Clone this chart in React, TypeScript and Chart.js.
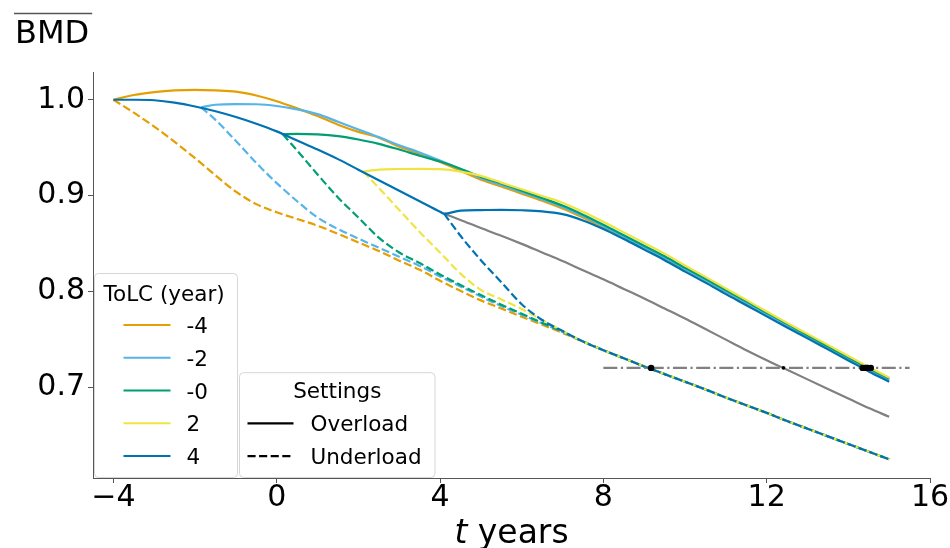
import React, { useEffect, useRef } from 'react';
import { Chart, registerables } from 'chart.js';

Chart.register(...registerables);

// ---- data ----
const years = [
  -4, -3.5, -3, -2.5, -2, -1.5, -1, -0.5, 0, 0.5, 1, 1.5, 2, 2.5, 3, 3.5, 4, 4.5, 5, 5.5,
  6, 6.5, 7, 7.5, 8, 8.5, 9, 9.5, 10, 10.5, 11, 11.5, 12, 12.5, 13, 13.5, 14, 14.5, 15,
];

const tolcLabels = ['-4', '-2', '-0', '2', '4'];
const tolcColors = ['#E69F00', '#56B4E9', '#009E73', '#F0E442', '#0072B2'];
const settingsLabels = ['Overload', 'Underload'];

// time at which each loading change starts, and BMD there
const splitTimes = [-4, -1.85, 0.15, 2.12, 4.1];
const splitValues = [1.0, 0.992, 0.964, 0.925, 0.881];

// normal ageing curve, years -4 .. 4
const referenceBMD = [
  1.0, 1.0, 0.9995, 0.997, 0.993, 0.988, 0.982, 0.975, 0.967, 0.9575, 0.948, 0.938, 0.927,
  0.916, 0.905, 0.894, 0.883,
];
// normal ageing continued (grey), years 4.5 .. 15
const noChangeBMD = [
  0.8745, 0.866, 0.858, 0.8495, 0.8405, 0.8315, 0.822, 0.8125, 0.8025, 0.7925, 0.782, 0.7715,
  0.7605, 0.7495, 0.7385, 0.728, 0.718, 0.708, 0.698, 0.688, 0.678, 0.669,
];

// overload (solid), values for the grid years after each split time
const overloadM4 = [
  1.005, 1.008, 1.0098, 1.0104, 1.0098, 1.0085, 1.0045, 0.9985, 0.991, 0.983, 0.974, 0.9665,
  0.9605, 0.951, 0.9435, 0.935, 0.926, 0.9165, 0.9095, 0.902, 0.8945, 0.8865, 0.877, 0.8665,
  0.8555, 0.8445, 0.8335, 0.8215, 0.81, 0.798, 0.7865, 0.7748, 0.7635, 0.752, 0.7405, 0.729,
  0.7175, 0.7068,
];
const overloadM2 = [
  0.9948, 0.9955, 0.9953, 0.9935, 0.99, 0.985, 0.977, 0.969, 0.961, 0.9525, 0.945, 0.9365,
  0.9275, 0.918, 0.911, 0.9035, 0.896, 0.888, 0.8785, 0.868, 0.857, 0.846, 0.835, 0.823,
  0.8115, 0.7995, 0.788, 0.776, 0.7645, 0.753, 0.7415, 0.73, 0.7185, 0.708,
];
const overload0 = [
  0.9643, 0.9638, 0.962, 0.9585, 0.954, 0.948, 0.9415, 0.9355, 0.928, 0.9195, 0.9125, 0.905,
  0.8975, 0.8895, 0.88, 0.8695, 0.8585, 0.8475, 0.8365, 0.8245, 0.813, 0.801, 0.7895, 0.7775,
  0.766, 0.754, 0.7425, 0.731, 0.7195, 0.709,
];
const overload2 = [
  0.9271, 0.9277, 0.9279, 0.9275, 0.925, 0.9205, 0.9135, 0.9065, 0.8995, 0.8925, 0.883,
  0.8725, 0.8615, 0.8505, 0.8393, 0.827, 0.815, 0.803, 0.791, 0.7788, 0.767, 0.7555, 0.744,
  0.7325, 0.721, 0.7098,
];
const overload4 = [
  0.8843, 0.8848, 0.885, 0.8846, 0.8835, 0.8805, 0.874, 0.865, 0.8545, 0.8435, 0.8325, 0.8205,
  0.809, 0.797, 0.7855, 0.7738, 0.7622, 0.7508, 0.7393, 0.7278, 0.7163, 0.7055,
];

// underload (dashed), grid years after each split time up to 7
const underloadM4 = [
  0.9865, 0.972, 0.956, 0.939, 0.921, 0.904, 0.891, 0.8825, 0.8755, 0.8685, 0.86, 0.851, 0.842,
  0.832, 0.8225, 0.811, 0.8005, 0.7905, 0.782, 0.7735, 0.765, 0.7565,
];
const underloadM2 = [
  0.979, 0.957, 0.934, 0.913, 0.894, 0.877, 0.865, 0.855, 0.8455, 0.836, 0.8265, 0.8155, 0.805,
  0.7945, 0.7845, 0.7755, 0.7665, 0.7575,
];
const underload0 = [
  0.947, 0.922, 0.898, 0.877, 0.856, 0.8405, 0.8295, 0.8175, 0.8065, 0.796, 0.786, 0.7765,
  0.767, 0.758,
];
const underload2 = [0.908, 0.885, 0.862, 0.8405, 0.8185, 0.8015, 0.7915, 0.7815, 0.77, 0.7585];
const underload4 = [0.858, 0.8325, 0.8095, 0.7865, 0.77, 0.7585];
// shared underload tail, years 7.5 .. 15
const underloadCommon = [
  0.7475, 0.7385, 0.73, 0.7215, 0.7135, 0.7055, 0.6975, 0.689, 0.681, 0.673, 0.6645, 0.6565,
  0.6485, 0.6405, 0.6325, 0.6245,
];

const thresholdBMD = 0.72;
const thresholdSpan = [8, 15.5];
const underloadCrossT = [9.17];
const noChangeCrossT = [12.41];
const overloadCrossT = [14.42, 14.46, 14.48, 14.55, 14.35];

const xTickValues = [-4, 0, 4, 8, 12, 16];
const yTickValues = [0.7, 0.8, 0.9, 1.0];

const overloads = [overloadM4, overloadM2, overload0, overload2, overload4];
const underloads = [underloadM4, underloadM2, underload0, underload2, underload4];

type Pt = { x: number; y: number };
const after = (start: number, vals: number[], upTo = Infinity): Pt[] =>
  years
    .filter((t) => t > start && t <= upTo)
    .slice(0, vals.length)
    .map((t, i) => ({ x: t, y: vals[i] }));

const FONT = '"DejaVu Sans", "Noto Sans", sans-serif';
const LW = 2.2;
const DASH = [8.1, 3.5];

function drawLegendBox(ctx: CanvasRenderingContext2D, x: number, y: number, w: number, h: number) {
  const r = 4;
  ctx.beginPath();
  ctx.moveTo(x + r, y);
  ctx.lineTo(x + w - r, y);
  ctx.arcTo(x + w, y, x + w, y + r, r);
  ctx.lineTo(x + w, y + h - r);
  ctx.arcTo(x + w, y + h, x + w - r, y + h, r);
  ctx.lineTo(x + r, y + h);
  ctx.arcTo(x, y + h, x, y + h - r, r);
  ctx.lineTo(x, y + r);
  ctx.arcTo(x, y, x + r, y, r);
  ctx.closePath();
  ctx.fillStyle = 'rgba(255,255,255,0.8)';
  ctx.fill();
  ctx.strokeStyle = '#d6d6d6';
  ctx.lineWidth = 1;
  ctx.stroke();
}

const decorations = {
  id: 'decorations',
  afterDraw(chart: any) {
    const ctx: CanvasRenderingContext2D = chart.ctx;
    const area = chart.chartArea;
    ctx.save();
    ctx.fillStyle = '#000';
    ctx.textAlign = 'left';
    ctx.textBaseline = 'alphabetic';

    // y title with overline
    ctx.font = `32px ${FONT}`;
    ctx.fillText('BMD', 15, 43);
    const bw = ctx.measureText('BMD').width;
    ctx.strokeStyle = '#555';
    ctx.lineWidth = 1.4;
    ctx.beginPath();
    ctx.moveTo(14, 13.5);
    ctx.lineTo(16 + bw + 2, 13.5);
    ctx.stroke();

    // x title: italic t + " years"
    ctx.font = `italic 33px ${FONT}`;
    const tW = ctx.measureText('t').width;
    ctx.font = `33px ${FONT}`;
    const rW = ctx.measureText(' years').width;
    const cx = (area.left + area.right) / 2;
    const x0 = cx - (tW + rW) / 2;
    ctx.font = `italic 33px ${FONT}`;
    ctx.fillText('t', x0, 543);
    ctx.font = `33px ${FONT}`;
    ctx.fillText(' years', x0 + tW, 543);

    // legend 1: ToLC
    const lf = `21.5px ${FONT}`;
    const l1x = area.left + 1.5;
    const l1y = 273.5;
    drawLegendBox(ctx, l1x, l1y, 143, area.bottom - 0.5 - l1y);
    ctx.font = lf;
    ctx.fillStyle = '#000';
    ctx.fillText('ToLC (year)', l1x + 9, l1y + 27);
    tolcLabels.forEach((lab, i) => {
      const yy = 325 + i * 32.75;
      ctx.strokeStyle = tolcColors[i];
      ctx.lineWidth = LW;
      ctx.setLineDash([]);
      ctx.beginPath();
      ctx.moveTo(l1x + 29, yy);
      ctx.lineTo(l1x + 76, yy);
      ctx.stroke();
      ctx.fillText(lab, l1x + 92, yy + 8);
    });

    // legend 2: Settings
    const l2x = 239.5;
    const l2y = 372.7;
    const l2w = 195.5;
    drawLegendBox(ctx, l2x, l2y, l2w, area.bottom - 0.5 - l2y);
    ctx.font = lf;
    ctx.fillStyle = '#000';
    ctx.textAlign = 'center';
    ctx.fillText('Settings', l2x + l2w / 2, 397.5);
    ctx.textAlign = 'left';
    settingsLabels.forEach((lab, i) => {
      const yy = 423.3 + i * 32.75;
      ctx.strokeStyle = '#000';
      ctx.lineWidth = LW;
      ctx.setLineDash(i === 0 ? [] : DASH);
      ctx.beginPath();
      ctx.moveTo(l2x + 8, yy);
      ctx.lineTo(l2x + 54, yy);
      ctx.stroke();
      ctx.setLineDash([]);
      ctx.fillText(lab, l2x + 71, yy + 8);
    });
    ctx.restore();
  },
};

export default function App() {
  const ref = useRef<HTMLCanvasElement | null>(null);

  useEffect(() => {
    document.body.style.margin = '0';
    const canvas = ref.current;
    if (!canvas) return;

    const refPts: Pt[] = years
      .filter((t) => t <= 4)
      .map((t, i) => ({ x: t, y: referenceBMD[i] }));

    const layers: any[] = [];
    const mk = (data: Pt[], color: string, dashed: boolean) => ({
      data,
      borderColor: color,
      backgroundColor: color,
      borderWidth: LW,
      borderDash: dashed ? DASH : [],
      pointRadius: 0,
      fill: false,
      cubicInterpolationMode: 'monotone',
    });

    // grey: normal ageing continued
    layers.push(
      mk([{ x: splitTimes[4], y: splitValues[4] }, ...after(splitTimes[4], noChangeBMD)], '#808080', false)
    );

    tolcLabels.forEach((_, i) => {
      const start = { x: splitTimes[i], y: splitValues[i] };
      const solid = [start, ...after(splitTimes[i], overloads[i])];
      const solidData = i === 4 ? [...refPts, ...solid] : solid;
      layers.push(mk(solidData, tolcColors[i], false));
      const dashed = [start, ...after(splitTimes[i], underloads[i], 7), ...after(7, underloadCommon)];
      layers.push(mk(dashed, tolcColors[i], true));
    });

    // threshold dash-dot
    layers.push({
      data: thresholdSpan.map((t) => ({ x: t, y: thresholdBMD })),
      borderColor: '#808080',
      borderWidth: LW,
      borderDash: [14, 3.5, 2.2, 3.5],
      pointRadius: 0,
      fill: false,
    });

    const dots = (ts: number[], r: number) => ({
      data: ts.map((t) => ({ x: t, y: thresholdBMD })),
      showLine: false,
      pointRadius: r,
      pointBorderWidth: 0,
      pointBackgroundColor: '#000',
      borderColor: '#000',
      backgroundColor: '#000',
    });
    layers.push(dots(underloadCrossT, 3.2));
    layers.push(dots(noChangeCrossT, 1.8));
    layers.push(dots(overloadCrossT, 3.2));

    const n = layers.length;
    layers.forEach((d, i) => (d.order = n - i));

    const chart = new Chart(canvas, {
      type: 'line',
      data: { datasets: layers },
      plugins: [decorations],
      options: {
        responsive: false,
        animation: false,
        events: [],
        layout: { padding: { left: 0, right: 20, top: 72, bottom: 0 } },
        plugins: { legend: { display: false }, tooltip: { enabled: false }, title: { display: false } },
        scales: {
          x: {
            type: 'linear',
            min: -4.5,
            max: 16,
            afterFit: (s: any) => {
              s.height = 70;
            },
            afterBuildTicks: (s: any) => {
              s.ticks = xTickValues.map((v) => ({ value: v }));
            },
            ticks: {
              color: '#000',
              padding: 0,
              maxRotation: 0,
              autoSkip: false,
              font: { family: FONT, size: 30, lineHeight: 1 },
              callback: (v: any) => (Number(v) < 0 ? '\u2212' + Math.abs(Number(v)) : String(v)),
            },
            grid: { drawOnChartArea: false, drawTicks: true, tickLength: 5, color: '#555', lineWidth: 1 },
            border: { display: true, color: '#555', width: 1 },
          },
          y: {
            type: 'linear',
            min: 0.605,
            max: 1.029,
            afterFit: (s: any) => {
              s.width = 93;
            },
            afterBuildTicks: (s: any) => {
              s.ticks = yTickValues.map((v) => ({ value: v }));
            },
            ticks: {
              color: '#000',
              padding: 3,
              autoSkip: false,
              font: { family: FONT, size: 30, lineHeight: 1 },
              callback: (v: any) => Number(v).toFixed(1),
            },
            grid: { drawOnChartArea: false, drawTicks: true, tickLength: 5, color: '#555', lineWidth: 1 },
            border: { display: true, color: '#555', width: 1 },
          },
        },
      } as any,
    });
    return () => chart.destroy();
  }, []);

  return <canvas ref={ref} width={950} height={548} style={{ display: 'block' }} />;
}
